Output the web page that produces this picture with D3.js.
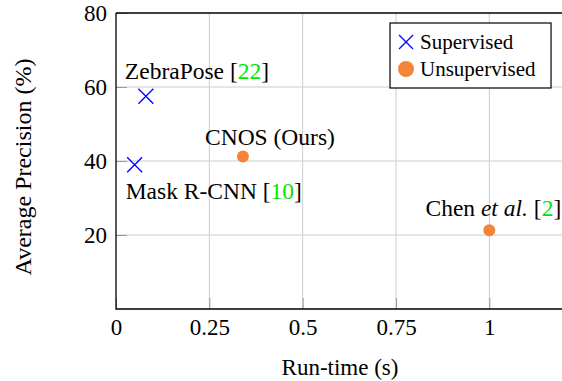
<!DOCTYPE html>
<html><head><meta charset="utf-8"><script src="https://cdn.jsdelivr.net/npm/d3@7"></script></head>
<body style="margin:0">
<svg id="s" width="562" height="381"></svg>
<script>
// data
var methods = ["ZebraPose", "Mask R-CNN", "CNOS (Ours)", "Chen et al."];
var runTimes = [0.08, 0.05, 0.34, 1.0];
var precisions = [57.5, 39, 41.2, 21.3];
var groups = ["Supervised", "Supervised", "Unsupervised", "Unsupervised"];
var citations = ["22", "10", null, "2"];
var xTicks = [0, 0.25, 0.5, 0.75, 1];
var yTicks = [20, 40, 60, 80];
var legendItems = ["Supervised", "Unsupervised"];

var width = 562, height = 381;
var margin = { top: 13, right: -2, bottom: 72, left: 116 };
var w = width - margin.left - margin.right,
    h = height - margin.top - margin.bottom;

var blue = "#0000ff", orange = "#f5843a", green = "#00e600";
var serif = "'Liberation Serif'";

var x = d3.scaleLinear().domain([0, 1.2]).range([0, w]),
    y = d3.scaleLinear().domain([0, 80]).range([h, 0]);

var svg = d3.select("#s")
    .append("g")
    .attr("transform", "translate(" + margin.left + "," + margin.top + ")");

// grid
svg.selectAll(".vgrid")
    .data(xTicks.slice(1))
    .enter().append("line")
    .attr("x1", x).attr("x2", x)
    .attr("y1", 0).attr("y2", h)
    .style("stroke", "#cccccc").style("stroke-width", 1);

svg.selectAll(".hgrid")
    .data(yTicks.slice(0, -1))
    .enter().append("line")
    .attr("x1", 0).attr("x2", w)
    .attr("y1", y).attr("y2", y)
    .style("stroke", "#cccccc").style("stroke-width", 1);

// axes, ticks pointing inward
var xAxis = svg.append("g")
    .attr("transform", "translate(0," + h + ")")
    .call(d3.axisBottom(x).tickValues(xTicks).tickSizeInner(-11).tickSizeOuter(0).tickPadding(10)
        .tickFormat(d3.format("")));
var yAxis = svg.append("g")
    .call(d3.axisLeft(y).tickValues(yTicks).tickSizeInner(-11).tickSizeOuter(0).tickPadding(9));

[xAxis, yAxis].forEach(function (a) {
    a.attr("font-family", null).attr("font-size", null);
    a.select(".domain").remove();
    a.selectAll(".tick line").style("stroke", "#999").style("stroke-width", 1);
    a.selectAll(".tick text")
        .style("font-family", serif)
        .style("font-size", "23px");
});
yAxis.selectAll(".tick text").attr("dy", "0.33em");

// frame
svg.append("path")
    .attr("d", "M0,0V" + h + "H" + w)
    .style("fill", "none").style("stroke", "#000").style("stroke-width", 1.3);
svg.append("line")
    .attr("x1", 0).attr("x2", w).attr("y1", 0).attr("y2", 0)
    .style("stroke", "#000").style("stroke-width", 1.3);

// axis titles
svg.append("text")
    .attr("x", x(0.6))
    .attr("y", h + 66)
    .attr("text-anchor", "middle")
    .style("font-family", serif)
    .style("font-size", "23px")
    .text("Run-time (s)");

svg.append("text")
    .attr("transform", "translate(" + (-85) + "," + (y(40) + 6) + ") rotate(-90)")
    .attr("text-anchor", "middle")
    .style("font-family", serif)
    .style("font-size", "24px")
    .text("Average Precision (%)");

// marks
var points = methods.map(function (m, i) {
    return { name: m, t: runTimes[i], ap: precisions[i], group: groups[i], cite: citations[i] };
});

function cross(sel, s) {
    sel.append("path")
        .attr("d", "M" + (-s) + "," + (-s) + "L" + s + "," + s + "M" + (-s) + "," + s + "L" + s + "," + (-s))
        .style("stroke", blue).style("stroke-width", 1.3).style("fill", "none");
}

var marks = svg.selectAll(".mark")
    .data(points)
    .enter().append("g")
    .attr("transform", function (d) { return "translate(" + x(d.t) + "," + y(d.ap) + ")"; });

marks.filter(function (d) { return d.group === "Supervised"; }).call(cross, 7.5);
marks.filter(function (d) { return d.group === "Unsupervised"; })
    .append("circle").attr("r", 6).style("fill", orange);

// point labels (offset from their marks)
var labelOffsets = [[-21, -17], [-9, 34], [27, -12], [4, -14]];
var labelAnchors = ["start", "start", "middle", "middle"];

var labels = marks.append("text")
    .attr("x", function (d, i) { return labelOffsets[i][0]; })
    .attr("y", function (d, i) { return labelOffsets[i][1]; })
    .attr("text-anchor", function (d, i) { return labelAnchors[i]; })
    .style("font-family", serif)
    .style("font-size", "23.5px");

labels.each(function (d) {
    var t = d3.select(this);
    if (d.name === "Chen et al.") {
        t.append("tspan").text("Chen ");
        t.append("tspan").style("font-style", "italic").text("et al.");
    } else {
        t.append("tspan").text(d.name);
    }
    if (d.cite) {
        t.append("tspan").text(" [");
        t.append("tspan").style("fill", green).text(d.cite);
        t.append("tspan").text("]");
    }
});

// legend
var legend = svg.append("g")
    .attr("transform", "translate(" + x(0.734) + "," + 10 + ")");

legend.append("rect")
    .attr("width", 161).attr("height", 65)
    .style("fill", "#fff").style("stroke", "#000").style("stroke-width", 1.2);

var li = legend.selectAll(".legend")
    .data(legendItems)
    .enter().append("g")
    .attr("transform", function (d, i) { return "translate(16," + (19 + i * 27) + ")"; });

li.filter(function (d) { return d === "Supervised"; }).call(cross, 7);
li.filter(function (d) { return d === "Unsupervised"; })
    .append("circle").attr("r", 8).style("fill", orange);

li.append("text")
    .attr("x", 14)
    .attr("dy", "0.33em")
    .style("font-family", serif)
    .style("font-size", "21px")
    .text(String);
</script></body></html>
